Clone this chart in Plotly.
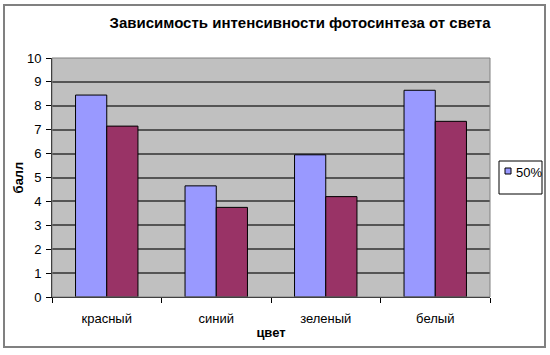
import plotly.graph_objects as go

categories = ["красный", "синий", "зеленый", "белый"]
series_50 = [8.45, 4.65, 5.95, 8.65]
series_2 = [7.15, 3.75, 4.2, 7.35]
y_ticks = list(range(0, 11))
legend_name = "50%"

W, H = 550, 355
L, R, T, B = 52, 60, 58, 58
pw, ph = W - L - R, H - T - B

def px(x):
    return (x - L) / pw

def py(y):
    return (H - B - y) / ph

FONT = "Arial, Liberation Sans"

fig = go.Figure()
fig.add_trace(go.Bar(x=categories, y=series_50, name=legend_name, showlegend=False,
                     marker=dict(color="#9999ff", line=dict(color="#000000", width=1))))
fig.add_trace(go.Bar(x=categories, y=series_2, name="", showlegend=False,
                     marker=dict(color="#993366", line=dict(color="#000000", width=1))))

fig.update_layout(
    width=W, height=H,
    margin=dict(l=L, r=R, t=T, b=B),
    paper_bgcolor="white",
    plot_bgcolor="#c0c0c0",
    barmode="group",
    bargap=0.43,
    bargroupgap=0,
    showlegend=False,
    font=dict(family=FONT, size=13, color="black"),
    title=dict(text="<b>Зависимость интенсивности фотосинтеза от света</b>",
               xref="container", x=300 / W, xanchor="center",
               yref="container", y=1 - 23 / H, yanchor="middle",
               font=dict(size=15, family=FONT, color="black")),
    xaxis=dict(
        title=dict(text="<b>цвет</b>", standoff=3, font=dict(size=13)),
        showline=True, linecolor="#000000", linewidth=1,
        ticks="outside", tickson="boundaries", ticklen=5, tickcolor="#000000",
        ticklabelstandoff=9,
        showgrid=False,
    ),
    yaxis=dict(
        title=dict(text="<b>балл</b>", standoff=0, font=dict(size=13)),
        range=[0, 10], tickvals=y_ticks,
        showline=True, linecolor="#000000", linewidth=1,
        ticks="outside", ticklen=5, tickcolor="#000000",
        ticklabelstandoff=2,
        showgrid=True, gridcolor="#555555", gridwidth=2,
        zeroline=False,
    ),
    shapes=[
        dict(type="rect", xref="paper", yref="paper", x0=0, x1=1, y0=0, y1=1,
             line=dict(color="#808080", width=1), layer="above"),
        dict(type="rect", xref="paper", yref="paper",
             x0=px(4), x1=px(545), y0=py(347), y1=py(5),
             line=dict(color="#808080", width=2)),
        # legend box and key
        dict(type="rect", xref="paper", yref="paper",
             x0=px(499), x1=px(542), y0=py(194), y1=py(161),
             line=dict(color="#000000", width=1), fillcolor="white"),
        dict(type="rect", xref="paper", yref="paper",
             x0=px(505), x1=px(511), y0=py(174), y1=py(168),
             line=dict(color="#000000", width=1), fillcolor="#9999ff"),
    ],
    annotations=[
        dict(text=legend_name, xref="paper", yref="paper", x=px(514), y=py(172),
             xanchor="left", yanchor="middle", showarrow=False,
             font=dict(size=13, family=FONT, color="black")),
    ],
)

fig.write_html("out.html")
